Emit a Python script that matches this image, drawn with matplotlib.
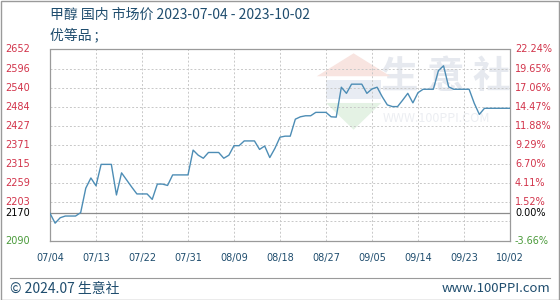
#!/usr/bin/env python3
"""Methanol domestic market price, 2023-07-04 .. 2023-10-02 (100PPI style)."""

import matplotlib

matplotlib.use("Agg")
import matplotlib.pyplot as plt
import numpy as np
from matplotlib.patches import Polygon, Rectangle

plt.rcParams["font.family"] = ["Noto Sans CJK SC", "DejaVu Sans"]

TITLE = "甲醇 国内 市场价 2023-07-04 - 2023-10-02"
SUBTITLE = "优等品 ;"
BASE = 2170

# one value per calendar day, 07/04 .. 10/02
prices = [
    2170, 2141, 2157, 2162, 2162, 2162, 2172, 2244, 2274, 2251,
    2314, 2314, 2314, 2224, 2289, 2268, 2247, 2227, 2227, 2227,
    2211, 2256, 2256, 2252, 2283, 2283, 2283, 2283, 2356, 2341,
    2332, 2349, 2349, 2349, 2332, 2341, 2369, 2369, 2383, 2383,
    2383, 2358, 2368, 2334, 2361, 2394, 2397, 2397, 2447, 2454,
    2457, 2457, 2467, 2467, 2467, 2454, 2453, 2541, 2523, 2550,
    2550, 2550, 2523, 2536, 2541, 2513, 2489, 2484, 2484, 2503,
    2523, 2495, 2525, 2535, 2535, 2535, 2590, 2604, 2542, 2535,
    2535, 2535, 2535, 2494, 2461, 2479, 2479, 2479, 2479, 2479,
    2479,
]
x_labels = ["07/04", "07/13", "07/22", "07/31", "08/09", "08/18",
            "08/27", "09/05", "09/14", "09/23", "10/02"]
left_labels = ["2652", "2596", "2540", "2484", "2427", "2371",
               "2315", "2259", "2203", "", "2090"]
right_labels = ["22.24%", "19.65%", "17.06%", "14.47%", "11.88%", "9.29%",
                "6.70%", "4.11%", "1.52%", "", "-3.66%"]

Y_MIN, Y_MAX = 2090, 2652
RED = "#d2334a"
GREEN = "#4a9a3a"
NAVY = "#1f4d6e"

fig = plt.figure(figsize=(5.6, 3.0), dpi=100)
W, H = 560, 300
ax = fig.add_axes([50 / W, 59.5 / H, 460 / W, 191 / H])

days = np.arange(len(prices))
grid_vals = np.linspace(Y_MAX, Y_MIN, len(left_labels))
x_ticks = np.arange(0, len(prices), 9)

# faint watermark
ax.text(0.86, 0.86, "生 意 社", transform=ax.transAxes, fontsize=27,
        color="#e6e9ef", ha="center", va="center", fontweight="bold", zorder=0)
ax.text(0.84, 0.64, "WWW.100PPI.COM", transform=ax.transAxes, fontsize=9,
        color="#eceef2", ha="center", va="center", zorder=0)
ax.add_patch(Polygon([[0.58, 0.86], [0.66, 0.98], [0.74, 0.86]], closed=True,
                     transform=ax.transAxes, color="#f8e4e0", lw=0, zorder=0))
ax.add_patch(Polygon([[0.60, 0.72], [0.66, 0.58], [0.72, 0.72]], closed=True,
                     transform=ax.transAxes, color="#e4f2e4", lw=0, zorder=0))
ax.add_patch(Rectangle((0.60, 0.74), 0.12, 0.1, transform=ax.transAxes,
                       color="#e8ecf3", lw=0, zorder=0))

for v in grid_vals[1:-1]:
    ax.axhline(v, color="#c8c8c8", lw=0.7, ls=(0, (2, 2)), zorder=1)
for d in x_ticks[1:-1]:
    ax.axvline(d, color="#c8c8c8", lw=0.7, ls=(0, (2, 2)), zorder=1)
ax.axhline(BASE, color="#8c8c8c", lw=0.9, zorder=2)

ax.plot(days, prices, color="#4d8db5", lw=1.0, zorder=3)

ax.set_xlim(0, len(prices) - 1)
ax.set_ylim(Y_MIN, Y_MAX)
ax.set_xticks([])
ax.set_yticks([])
for s in ax.spines.values():
    s.set_color("#9a9a9a")
    s.set_linewidth(0.9)

# left / right axis labels
ytr = ("axes fraction", "data")
for v, lab, rlab in zip(grid_vals, left_labels, right_labels):
    col = GREEN if v == Y_MIN else RED
    if lab:
        ax.annotate(lab, xy=(0, v), xycoords=ytr, xytext=(-45, 0),
                    textcoords="offset pixels", fontsize=7, color=col,
                    va="center", ha="left", family="DejaVu Sans")
    if rlab:
        ax.annotate(rlab, xy=(1, v), xycoords=ytr, xytext=(5, 0),
                    textcoords="offset pixels", fontsize=7, color=col,
                    va="center", ha="left", family="DejaVu Sans")
ax.annotate(str(BASE), xy=(0, BASE), xycoords=ytr, xytext=(-45, 0),
            textcoords="offset pixels", fontsize=7, color="black",
            va="center", ha="left", family="DejaVu Sans")
ax.annotate("0.00%", xy=(1, BASE), xycoords=ytr, xytext=(5, 0),
            textcoords="offset pixels", fontsize=7, color="black",
            va="center", ha="left", family="DejaVu Sans")

for d, lab in zip(x_ticks, x_labels):
    ax.annotate(lab, xy=(d, 0), xycoords=("data", "axes fraction"),
                xytext=(0, -18), textcoords="offset pixels", fontsize=7,
                color=NAVY, ha="center", va="center", family="DejaVu Sans")

fig.text(50 / W, 1 - 15 / H, TITLE, fontsize=10, color=NAVY, va="center")
fig.text(50 / W, 1 - 35 / H, SUBTITLE, fontsize=10, color=NAVY, va="center")

# footer
fig.add_artist(plt.Line2D([10 / W, 550 / W], [1 - 278 / H, 1 - 278 / H],
                          color="#9a9a9a", lw=0.8))
fig.text(10 / W, 1 - 289 / H, "© 2024.07 生意社", fontsize=10, color=NAVY,
         va="center")
fig.text(550 / W, 1 - 289 / H, "www.100PPI.com", fontsize=9.5, color=NAVY,
         va="center", ha="right")
fig.add_artist(Rectangle((0.5 / W, 0.5 / H), 1 - 1.5 / W, 1 - 1.5 / H,
                         transform=fig.transFigure, fill=False,
                         edgecolor="#9a9a9a", lw=1))

fig.savefig("out.png", dpi=100)
